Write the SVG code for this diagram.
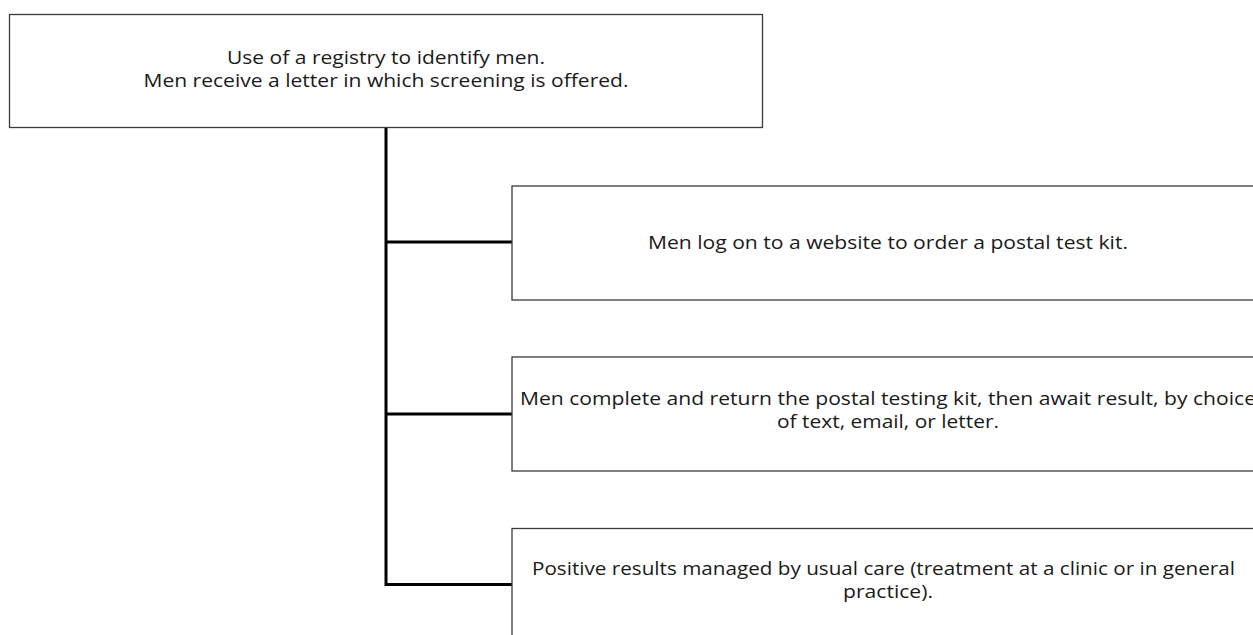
<svg xmlns="http://www.w3.org/2000/svg" width="1253" height="635" viewBox="0 0 1253 635">
<style>
.box{fill:#ffffff;stroke:#3a3a3a;stroke-width:1.3}
.conn{fill:none;stroke:#000000;stroke-width:3;stroke-linejoin:miter}
.t{font-family:"Open Sans","Liberation Sans",sans-serif;font-size:17.5px;fill:#1a1a1a;text-anchor:middle}
</style>
<rect width="1253" height="635" fill="#ffffff"/>
<g id="connectors">
<path class="conn" d="M386,128 V584.5 H512"/>
<path class="conn" d="M386,242 H512"/>
<path class="conn" d="M386,414 H512"/>
</g>
<g id="node-registry">
<rect class="box" x="9.5" y="14.5" width="753" height="113"/>
<text class="t" x="386" y="64" textLength="318" lengthAdjust="spacingAndGlyphs">Use of a registry to identify men.</text>
<text class="t" x="386" y="87" textLength="485" lengthAdjust="spacingAndGlyphs">Men receive a letter in which screening is offered.</text>
</g>
<g id="node-website">
<rect class="box" x="512" y="186" width="752" height="114"/>
<text class="t" x="888" y="249" textLength="480" lengthAdjust="spacingAndGlyphs">Men log on to a website to order a postal test kit.</text>
</g>
<g id="node-kit">
<rect class="box" x="512" y="357" width="752" height="114"/>
<text class="t" x="888" y="405" textLength="736" lengthAdjust="spacingAndGlyphs">Men complete and return the postal testing kit, then await result, by choice</text>
<text class="t" x="888" y="428" textLength="222" lengthAdjust="spacingAndGlyphs">of text, email, or letter.</text>
</g>
<g id="node-results">
<rect class="box" x="512" y="528.5" width="752" height="120"/>
<text class="t" x="883.5" y="575" textLength="703" lengthAdjust="spacingAndGlyphs">Positive results managed by usual care (treatment at a clinic or in general</text>
<text class="t" x="888" y="598" textLength="90" lengthAdjust="spacingAndGlyphs">practice).</text>
</g>
</svg>
